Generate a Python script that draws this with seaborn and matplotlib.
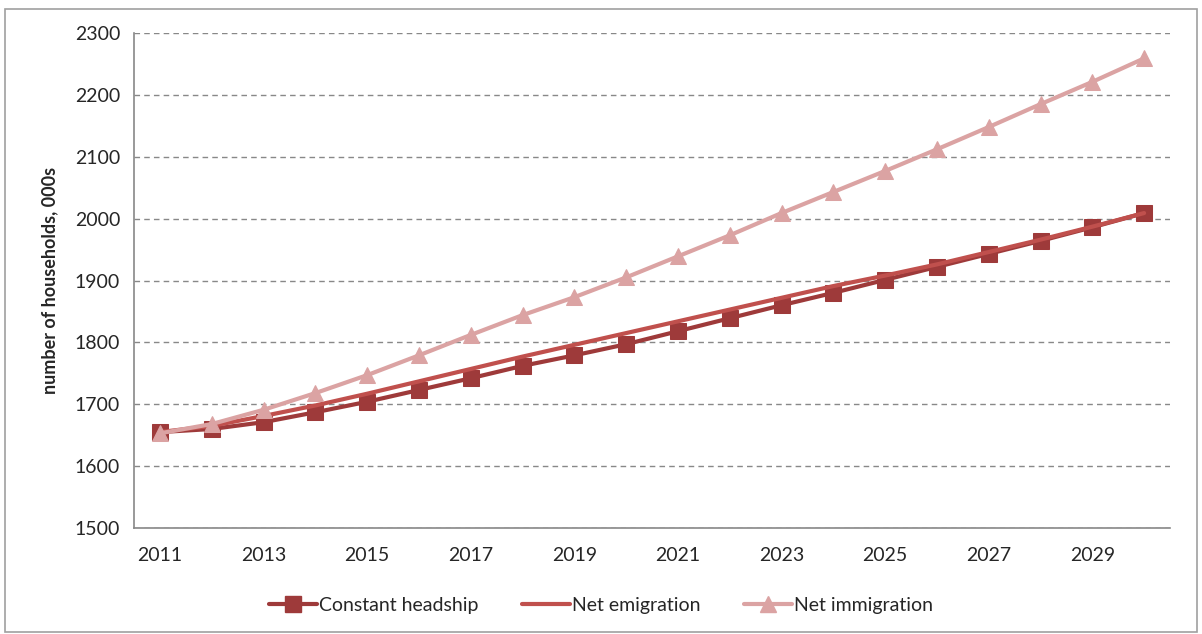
import matplotlib
matplotlib.use("Agg")
import matplotlib.pyplot as plt
import seaborn as sns
import pandas as pd
from matplotlib.patches import Rectangle
from matplotlib.lines import Line2D

years = list(range(2011, 2031))
constant_headship = [1655, 1660, 1671, 1687, 1704, 1723, 1742, 1762, 1779, 1797,
                     1818, 1839, 1860, 1880, 1901, 1922, 1943, 1964, 1986, 2009]
net_emigration = [1655, 1665, 1681, 1698, 1717, 1737, 1757, 1777, 1796, 1815,
                  1834, 1853, 1872, 1891, 1908, 1926, 1946, 1966, 1987, 2009]
net_immigration = [1653, 1668, 1691, 1718, 1747, 1779, 1812, 1844, 1873, 1905,
                   1939, 1973, 2009, 2043, 2077, 2112, 2148, 2185, 2221, 2259]
series_names = ["Constant headship", "Net emigration", "Net immigration"]
y_ticks = [1500, 1600, 1700, 1800, 1900, 2000, 2100, 2200, 2300]
x_labels = [y for y in years if y % 2 == 1]

df = pd.DataFrame({
    "year": years * 3,
    "value": constant_headship + net_emigration + net_immigration,
    "series": [series_names[0]] * 20 + [series_names[1]] * 20 + [series_names[2]] * 20,
})

colors = {"Constant headship": "#9E3A3A", "Net emigration": "#C0504D", "Net immigration": "#DBA3A3"}

sns.set_style("white")
plt.rcParams["font.family"] = ["Lato", "DejaVu Sans"]

fig = plt.figure(figsize=(12.02, 6.34), dpi=100)
ax = fig.add_axes([134 / 1202, 1 - 528 / 634, (1170 - 134) / 1202, (528 - 33) / 634])

LW = 3.0
MS = 11
for name, mk in [("Constant headship", "s"), ("Net emigration", None), ("Net immigration", "^")]:
    sub = df[df["series"] == name]
    sns.lineplot(data=sub, x="year", y="value", ax=ax, color=colors[name],
                 marker=mk, markersize=MS if mk else 0, linewidth=LW,
                 markeredgecolor=colors[name], label=name, legend=False)

ax.set_xlim(2010.5, 2030.5)
ax.set_ylim(1500, 2300)
ax.set_yticks(y_ticks)
ax.set_yticklabels([str(v) for v in y_ticks], fontsize=14)
ax.set_xticks(x_labels)
ax.set_xticklabels([str(v) for v in x_labels], fontsize=14)
ax.set_xticks([y + 0.5 for y in range(2010, 2031)], minor=True)
ax.tick_params(axis="x", which="major", length=0, pad=14)
ax.tick_params(axis="x", which="minor", length=5, direction="out", color="#888888", width=1)
ax.tick_params(axis="y", which="major", length=5, direction="out", color="#888888", width=1, pad=5)
ax.set_xlabel("")
ax.set_ylabel("number of households, 000s", fontsize=13, fontweight="bold", labelpad=12)

ax.yaxis.grid(True, linestyle=(0, (4, 3)), color="#888888", linewidth=1)
ax.xaxis.grid(False)
for s in ["top", "right"]:
    ax.spines[s].set_visible(False)
for s in ["left", "bottom"]:
    ax.spines[s].set_color("#888888")
    ax.spines[s].set_linewidth(1.2)

handles = [
    Line2D([0], [0], color=colors["Constant headship"], marker="s", markersize=MS, linewidth=LW),
    Line2D([0], [0], color=colors["Net emigration"], linewidth=LW),
    Line2D([0], [0], color=colors["Net immigration"], marker="^", markersize=MS, linewidth=LW),
]
fig.legend(handles, series_names, loc="center", bbox_to_anchor=(0.5, 1 - 605 / 634),
           ncol=3, frameon=False, fontsize=14, handlelength=2.5, handletextpad=0.1,
           columnspacing=2.2)

fig.patches.append(Rectangle((5 / 1202, 2 / 634), 1192 / 1202, 623 / 634,
                             transform=fig.transFigure, fill=False,
                             edgecolor="#A0A0A0", linewidth=1.2))

fig.savefig("out.png", dpi=100)
